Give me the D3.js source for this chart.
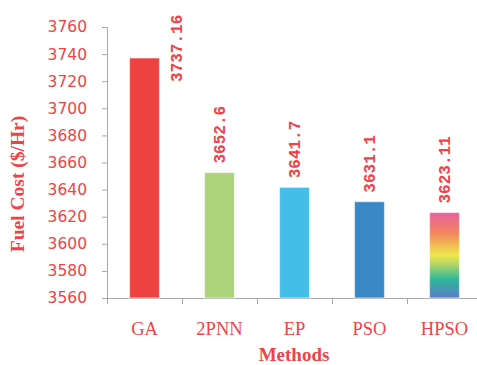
<!DOCTYPE html>
<html>
<head>
<meta charset="utf-8">
<script src="https://cdn.jsdelivr.net/npm/d3@7"></script>
<style>
  html, body { margin: 0; padding: 0; background: #fff; }
  svg { display: block; }
</style>
</head>
<body>
<svg id="chart" width="477" height="365"></svg>
<script>
// Fuel cost obtained by each optimisation method
const methods = ["GA", "2PNN", "EP", "PSO", "HPSO"];
const fuelCost = [3737.16, 3652.6, 3641.7, 3631.1, 3623.11];
const costLabels = ["3737.16", "3652.6", "3641.7", "3631.1", "3623.11"];
const barColors = ["#EE4240", "#AAD37A", "#44BDE9", "#3A88C5", "url(#rainbow)"];
const yTicks = [3560, 3580, 3600, 3620, 3640, 3660, 3680, 3700, 3720, 3740, 3760];

const red = "#EF4349";
const axisGrey = "#A8A8A8";

const svg = d3.select("#chart");

// rainbow fill for the HPSO bar
const grad = svg.append("defs").append("linearGradient")
  .attr("id", "rainbow").attr("x1", 0).attr("y1", 0).attr("x2", 0).attr("y2", 1);
[
  [0, "#EA5F9E"], [0.25, "#F2875C"], [0.5, "#EFE84B"],
  [0.62, "#A9D36B"], [0.78, "#2EB89A"], [1, "#5C7DC8"]
].forEach(([o, c]) => grad.append("stop").attr("offset", o).attr("stop-color", c));

const y = d3.scaleLinear().domain([3560, 3760]).range([298, 27]);
const x = d3.scaleBand().domain(methods).range([107, 482])
  .paddingInner(0.6).paddingOuter(0.3);

// y axis
const yAxis = svg.append("g").attr("transform", "translate(107,0)")
  .call(d3.axisLeft(y).tickValues(yTicks).tickSize(5).tickSizeOuter(0).tickPadding(15)
    .tickFormat(d3.format("d")));
yAxis.select(".domain").attr("stroke", axisGrey);
yAxis.selectAll(".tick line").attr("stroke", axisGrey);
yAxis.selectAll(".tick text")
  .attr("fill", red).attr("font-family", "DejaVu Sans").attr("font-size", 15.5);

// x axis: line with ticks at category boundaries
const xb = d3.scaleLinear().domain([0, methods.length]).range([107, 482]);
const xAxis = svg.append("g").attr("transform", "translate(0,298)")
  .call(d3.axisBottom(xb).ticks(methods.length).tickSize(6).tickSizeOuter(0).tickFormat(""));
xAxis.select(".domain").attr("stroke", axisGrey);
xAxis.selectAll(".tick line").attr("stroke", axisGrey);

// category labels
svg.append("g").selectAll("text").data(methods).join("text")
  .attr("x", d => x(d) + x.bandwidth() / 2)
  .attr("y", 335)
  .attr("text-anchor", "middle")
  .attr("fill", red)
  .attr("font-family", "Liberation Serif")
  .attr("font-size", 18.5)
  .text(d => d);

// bars
svg.append("g").selectAll("rect").data(methods).join("rect")
  .attr("x", d => x(d))
  .attr("width", x.bandwidth())
  .attr("y", (d, i) => y(fuelCost[i]))
  .attr("height", (d, i) => y(3560) - y(fuelCost[i]))
  .attr("fill", (d, i) => barColors[i])
  .attr("stroke", "rgba(255,255,255,0.55)")
  .attr("stroke-width", 1.2);

// value labels, rotated; the tallest one sits beside its bar
svg.append("g").selectAll("text").data(methods).join("text")
  .attr("transform", (d, i) => {
    const cx = x(d) + x.bandwidth() / 2;
    const px = i === 0 ? cx + 32 : cx;
    const py = i === 0 ? y(fuelCost[i]) + 24 : y(fuelCost[i]) - 9;
    return `translate(${px},${py}) rotate(-90)`;
  })
  .attr("dy", "0.35em")
  .attr("text-anchor", "start")
  .attr("fill", red)
  .attr("font-family", "Liberation Mono")
  .attr("font-weight", "bold")
  .attr("font-size", 16)
  .text((d, i) => costLabels[i]);

// axis titles
svg.append("text")
  .attr("transform", "translate(17,184) rotate(-90)")
  .attr("dy", "0.35em")
  .attr("text-anchor", "middle")
  .attr("fill", red)
  .attr("font-family", "Liberation Serif")
  .attr("font-weight", "bold")
  .attr("font-size", 19.5)
  .text("Fuel Cost ($/Hr)");

svg.append("text")
  .attr("x", 294)
  .attr("y", 361)
  .attr("text-anchor", "middle")
  .attr("fill", red)
  .attr("font-family", "Liberation Serif")
  .attr("font-weight", "bold")
  .attr("font-size", 19)
  .text("Methods");
</script>
</body>
</html>
